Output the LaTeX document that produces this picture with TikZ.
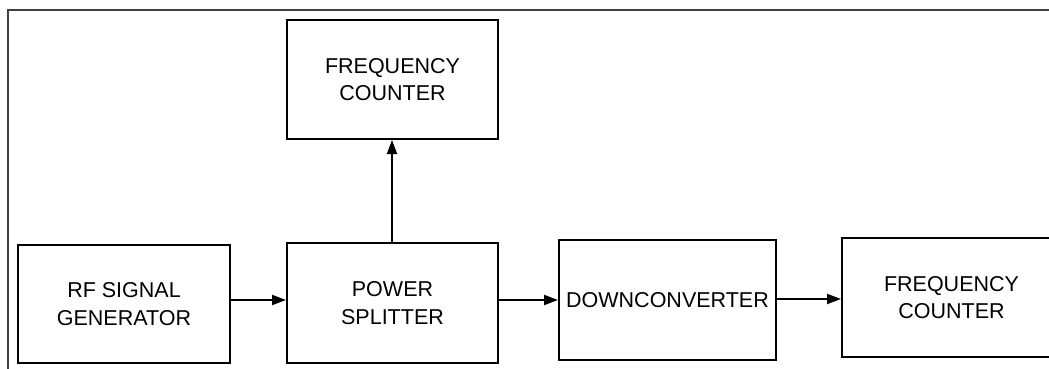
\documentclass[tikz,border=0pt]{standalone}
\usepackage{fontspec}
\setmainfont{Liberation Sans}
\usetikzlibrary{arrows.meta}
\begin{document}
\begin{tikzpicture}[x=1pt,y=-1pt,
  blockbox/.style={draw=black, line width=2pt, fill=white, align=center,
    font=\fontsize{21.5pt}{27.5pt}\selectfont, inner sep=0pt},
  arr/.style={line width=2pt, -{Triangle[length=14pt,width=10pt]}},
  framel/.style={draw=black!75, line width=2pt}]
\useasboundingbox (0,0) rectangle (1049,369);
\draw[framel] (8,380) -- (8,10) -- (1060,10);
\node[blockbox, minimum width=212pt, minimum height=118pt] (rf) at (124,304) {RF SIGNAL\\GENERATOR};
\node[blockbox, minimum width=211pt, minimum height=120pt] (ps) at (392.5,303) {POWER\\SPLITTER};
\node[blockbox, minimum width=211pt, minimum height=119pt] (fc1) at (392.5,79.5) {FREQUENCY\\COUNTER};
\node[blockbox, minimum width=217pt, minimum height=120pt] (dc) at (667.5,300) {DOWNCONVERTER};
\node[blockbox, minimum width=219pt, minimum height=119pt] (fc2) at (951.5,297.5) {FREQUENCY\\COUNTER};
\coordinate (ya) at (0,300);
\coordinate (yb) at (0,299);
\draw[arr] (rf.east |- ya) -- (ps.west |- ya);
\draw[arr] (ps.east |- ya) -- (dc.west |- ya);
\draw[arr] (dc.east |- yb) -- (fc2.west |- yb);
\draw[arr] ([xshift=-0.5pt]ps.north) -- ([xshift=-0.5pt]fc1.south);
\end{tikzpicture}
\end{document}
